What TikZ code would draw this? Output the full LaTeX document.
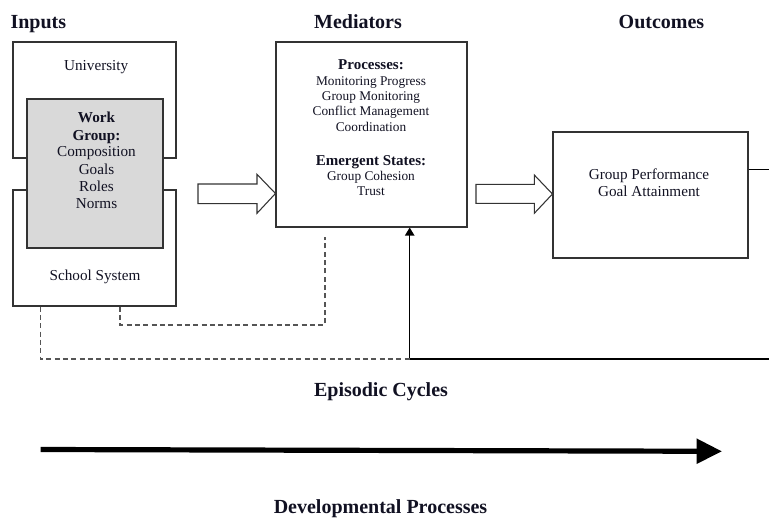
\documentclass[tikz,border=0pt]{standalone}
\usepackage{fontspec}
\setmainfont{Liberation Serif}
\usetikzlibrary{fit,arrows.meta}
\definecolor{bordc}{HTML}{333333}
\definecolor{dashc}{HTML}{555555}
\definecolor{grayfill}{HTML}{D9D9D9}
\definecolor{txt}{HTML}{111122}
\tikzset{
  box/.style={draw=bordc, line width=0.8pt, inner sep=0pt},
  gbox/.style={box, fill=grayfill},
  lbl/.style={anchor=base, inner sep=0pt, text=txt, font=\fontsize{11.4}{13}\selectfont},
  sm/.style={lbl, font=\fontsize{10}{12}\selectfont},
  smb/.style={lbl, font=\fontsize{11.25}{13}\selectfont\bfseries},
  head/.style={lbl, font=\fontsize{15}{18}\selectfont\bfseries},
  dline/.style={draw=dashc, line width=0.8pt, dash pattern=on 3.75pt off 2.5pt},
  blockarrow/.style={draw=bordc, fill=white, line width=0.8pt, line join=miter},
  fbline/.style={draw=black, line width=0.9pt},
}
\begin{document}
\begin{tikzpicture}[x=0.75pt, y=-0.75pt]
\useasboundingbox (0,0) rectangle (769,519);

% headings
\node[head] (hin) at (38.3,28) {Inputs};
\node[head] (hmed) at (358,28) {Mediators};
\node[head] (hout) at (661.5,28) {Outcomes};

% input boxes
\node[box, fit={(13,42) (176,158)}] (univ) {};
\node[box, fit={(13,190) (176,306)}] (school) {};
\node[gbox, fit={(27,99) (163,248)}] (wg) {};
\node[lbl] (tuniv) at (96.2,70) {University};
\node[lbl] (tschool) at (95,280) {School System};
\node[lbl, font=\fontsize{11.4}{13}\selectfont\bfseries] (twork) at (96.5,122.7) {Work};
\node[lbl, font=\fontsize{11.4}{13}\selectfont\bfseries] (tgroup) at (96.5,140) {Group:};
\node[lbl] (tcomp) at (96.5,156.7) {Composition};
\node[lbl] (tgoals) at (96.5,174.3) {Goals};
\node[lbl] (troles) at (96.5,191.7) {Roles};
\node[lbl] (tnorms) at (96.5,208.7) {Norms};

% mediator box
\node[box, fit={(276,42) (467,227)}] (med) {};
\node[smb] (tproc) at (371,69.3) {Processes:};
\node[sm] (tm1) at (371,85) {Monitoring Progress};
\node[sm] (tm2) at (371,100.3) {Group Monitoring};
\node[sm] (tm3) at (371,115.7) {Conflict Management};
\node[sm] (tm4) at (371,131) {Coordination};
\node[smb] (temer) at (371,165) {Emergent States:};
\node[sm] (te1) at (371,180.3) {Group Cohesion};
\node[sm] (te2) at (371,195.7) {Trust};

% outcome box
\node[box, fit={(553,132) (748,258)}] (out) {};
\node[lbl] (to1) at (649,179.3) {Group Performance};
\node[lbl] (to2) at (649,196) {Goal Attainment};

% block arrows
\draw[blockarrow] (198,184) -- (257,184) -- (257,174.3) -- (med.west |- 0,193.5)
  -- (257,213.3) -- (257,203.7) -- (198,203.7) -- cycle;
\draw[blockarrow] (476,184.3) -- (534.3,184.3) -- (534.3,175) -- (out.west |- 0,194)
  -- (534.3,213.3) -- (534.3,203.3) -- (476,203.3) -- cycle;

% feedback loop
\coordinate (o1) at (769,169.3);
\coordinate (o2) at (769,359);
\coordinate (fbc) at (409.7,359);
\draw[fbline] (o1 -| out.east) -- (o1);
\draw[fbline, -{Triangle[length=6pt,width=7pt]}] (o2) -- (fbc) -- (med.south -| fbc);

% dashed lines
\coordinate (d1) at (40.3,0);
\coordinate (d2) at (120,0);
\coordinate (d2b) at (325,325);
\coordinate (d2e) at (325,237);
\draw[dline] (school.south -| d1) |- (fbc);
\draw[dline] (school.south -| d2) |- (d2b) -- (d2e);

% labels and time arrow
\node[head] (tepi) at (381,396.7) {Episodic Cycles};
\coordinate (ta) at (40.7,449.5);
\coordinate (tb) at (722,451.3);
\draw[line width=3.9pt, -{Triangle[length=19pt,width=18pt]}] (ta) -- (tb);
\node[head] (tdev) at (380.5,513) {Developmental Processes};
\end{tikzpicture}
\end{document}
